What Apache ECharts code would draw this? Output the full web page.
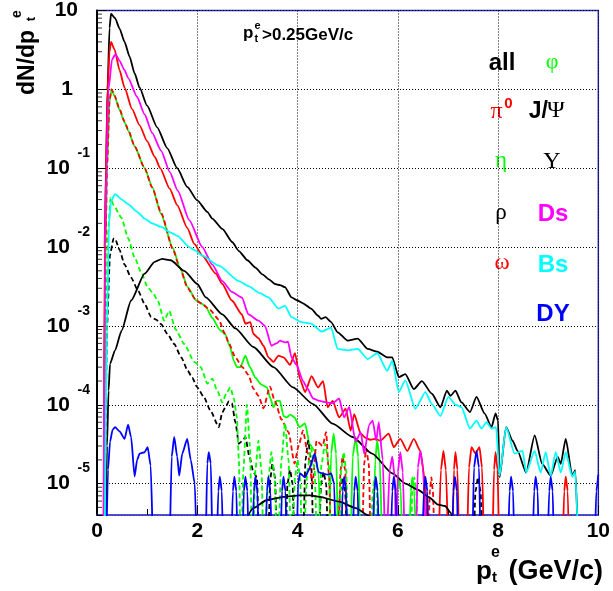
<!DOCTYPE html>
<html>
<head>
<meta charset="utf-8">
<script src="https://cdn.jsdelivr.net/npm/echarts@6/dist/echarts.min.js"></script>
<style>
html,body{margin:0;padding:0;background:#fff;}
#chart{width:613px;height:591px;}
</style>
</head>
<body>
<div id="chart"></div>
<script>
// ---------------- data (x = pt in GeV/c, y = dN/dpt) ----------------
const xTicks = [0, 2, 4, 6, 8, 10];
const yMin = 4e-6, yMax = 10;
const minorMult = [2, 3, 4, 5, 6, 7, 8, 9];
const minorDecades = [1e-6, 1e-5, 1e-4, 1e-3, 1e-2, 1e-1, 1];

const allPt = [[0.14,1e-6],[0.16,1e-2],[0.18,0.1],[0.21,1],[0.25,6],[0.28,9.1],[0.36,8.0],[0.45,5.9],[0.55,4.0],[0.65,2.6],[0.75,1.6],[0.85,1.05],[1.0,0.62],[1.2,0.33],[1.4,0.18],[1.6,0.1],[1.8,0.058],[2.0,0.039],[2.2,0.028],[2.3,0.023],[2.5,0.017],[2.7,0.0115],[2.83,0.0089],[3.0,0.0068],[3.16,0.0055],[3.3,0.0045],[3.43,0.0039],[3.55,0.0034],[3.65,0.0033],[3.75,0.0031],[3.88,0.0023],[4.0,0.0021],[4.1,0.00195],[4.27,0.00166],[4.41,0.00135],[4.47,0.00123],[4.56,0.00129],[4.67,0.00112],[4.8,0.00083],[5.0,0.00065],[5.2,0.00069],[5.4,0.00051],[5.59,0.00047],[5.79,0.0004],[5.89,0.0004],[6.02,0.000224],[6.15,0.000245],[6.32,0.000158],[6.48,0.0002],[6.68,0.000138],[6.85,0.000093],[6.98,0.000151],[7.05,0.00013],[7.15,0.000151],[7.27,0.000107],[7.44,0.000081],[7.57,0.000126],[7.73,0.000078],[7.87,0.000052],[7.95,0.000078],[8.0,0.000063],[8.03,0.000012],[8.16,0.000052],[8.29,0.000035],[8.39,0.000026],[8.56,0.0000138],[8.73,0.000041],[8.88,0.0000178],[9.05,0.0000126],[9.19,0.0000219],[9.25,0.0000178],[9.35,0.000037],[9.48,0.0000126],[9.54,0.0000148],[9.61,1e-6]];

const pi0Pt = [[0.13,1e-6],[0.15,1e-2],[0.18,0.1],[0.21,1],[0.25,3.0],[0.28,4.0],[0.35,3.2],[0.45,1.75],[0.55,1.05],[0.7,0.56],[0.85,0.35],[1.0,0.22],[1.15,0.14],[1.26,0.1],[1.45,0.055],[1.6,0.034],[1.8,0.0175],[1.94,0.011],[2.1,0.0078],[2.37,0.0046],[2.5,0.0034],[2.69,0.0021],[2.89,0.0014],[2.96,0.00107],[3.06,0.00112],[3.12,0.00079],[3.22,0.0007],[3.32,0.00056],[3.42,0.0004],[3.52,0.00035],[3.62,0.00042],[3.72,0.0004],[3.85,0.00032],[3.95,0.00045],[4.05,0.00021],[4.15,0.000145],[4.28,0.00023],[4.41,0.000166],[4.51,0.0002],[4.6,0.000093],[4.7,0.000112],[4.83,0.000069],[4.96,0.000089],[5.06,0.000047],[5.13,0.000076],[5.26,0.000043],[5.36,0.000038],[5.45,0.000036],[5.55,0.000037],[5.65,0.000035],[5.82,0.000043],[5.92,0.000029],[6.05,0.000037],[6.19,0.000026],[6.32,0.000037],[6.45,0.000026],[6.55,0.00001],[6.62,1e-6],[6.8,1e-6],[6.86,1.5e-5],[6.91,2.6e-5],[6.96,1.5e-5],[7.02,1e-6],[7.08,1e-6],[7.12,1.5e-5],[7.15,2.5e-5],[7.19,1.5e-5],[7.23,1e-6],[7.37,1e-6],[7.42,1.6e-5],[7.47,2.9e-5],[7.55,2.4e-5],[7.63,2.9e-5],[7.68,1.6e-5],[7.73,1e-6],[7.88,1e-6],[7.92,1.5e-5],[7.95,2.5e-5],[7.99,1.5e-5],[8.03,1e-6],[9.28,1e-6],[9.32,8e-6],[9.35,1.23e-5],[9.39,8e-6],[9.42,1e-6]];

const etaPt = [[0.14,1e-6],[0.17,1e-2],[0.2,0.1],[0.25,0.7],[0.29,1.0],[0.35,0.82],[0.45,0.55],[0.55,0.38],[0.62,0.3],[0.75,0.19],[0.95,0.1],[1.1,0.058],[1.28,0.026],[1.51,0.0098],[1.65,0.0056],[1.81,0.0031],[1.98,0.0021],[2.1,0.0019],[2.17,0.00174],[2.3,0.00126],[2.45,0.00089],[2.56,0.00078],[2.65,0.00055],[2.73,0.00036],[2.79,0.0003],[2.86,0.0003],[2.96,0.00042],[3.05,0.0003],[3.16,0.00022],[3.28,0.00018],[3.39,0.000166],[3.46,0.00012],[3.52,0.000093],[3.58,0.000112],[3.65,0.000112],[3.72,0.000072],[3.78,0.000069],[3.86,0.000075],[3.94,0.000069],[4.04,0.000052],[4.15,0.000058],[4.24,0.000032],[4.34,0.000026],[4.42,0.000013],[4.48,1e-6],[4.62,1e-6],[4.67,2.4e-5],[4.72,4.3e-5],[4.77,2.4e-5],[4.82,1e-6],[5.05,1e-6],[5.1,2.2e-5],[5.16,3.9e-5],[5.21,2.2e-5],[5.26,1e-6],[5.5,1e-6],[5.55,2e-5],[5.59,3.5e-5],[5.64,2e-5],[5.7,1e-6],[5.94,1e-6],[5.98,8e-6],[6.02,1.2e-5],[6.06,8e-6],[6.1,1e-6],[6.22,1e-6],[6.26,8e-6],[6.29,1.2e-5],[6.33,8e-6],[6.37,1e-6]];

const rhoPt = [[0.15,1e-6],[0.2,1e-3],[0.26,8e-3],[0.33,0.0128],[0.36,0.0128],[0.45,0.0092],[0.55,0.006],[0.68,0.0041],[0.82,0.0028],[0.95,0.0019],[1.08,0.0013],[1.18,0.0012],[1.28,0.00105],[1.4,0.0008],[1.54,0.00059],[1.68,0.0004],[1.81,0.00027],[1.9,0.00022],[2.0,0.000166],[2.13,0.000126],[2.26,0.000085],[2.43,0.000052],[2.5,0.00008],[2.56,0.000093],[2.63,0.00011],[2.69,0.000105],[2.76,0.00006],[2.83,0.000032],[2.9,0.000035],[2.96,0.000039],[3.04,0.000022],[3.12,0.000014],[3.19,0.000012],[3.24,1e-6],[3.4,1e-6],[3.46,1.2e-5],[3.5,1.8e-5],[3.55,1.2e-5],[3.6,1e-6],[3.75,1e-6],[3.8,1e-5],[3.85,1.5e-5],[3.9,1e-5],[3.95,1e-6],[4.1,1e-6],[4.16,2e-5],[4.21,3.5e-5],[4.27,2e-5],[4.33,1e-6],[4.42,1e-6],[4.47,1e-5],[4.52,1.4e-5],[4.57,1e-5],[4.62,1e-6],[4.8,1e-6],[4.85,8e-6],[4.9,1.2e-5],[4.95,8e-6],[5.0,1e-6],[7.5,1e-6],[7.55,8e-6],[7.6,1.2e-5],[7.65,8e-6],[7.7,1e-6]];

const omegaPt = [[0.14,1e-6],[0.17,1e-2],[0.2,0.1],[0.25,0.72],[0.29,1.0],[0.35,0.84],[0.45,0.56],[0.55,0.39],[0.62,0.31],[0.75,0.19],[0.95,0.1],[1.1,0.057],[1.28,0.027],[1.51,0.0095],[1.65,0.0055],[1.81,0.003],[1.98,0.0021],[2.1,0.0019],[2.25,0.0016],[2.43,0.0012],[2.55,0.0008],[2.63,0.0006],[2.76,0.0004],[2.9,0.0003],[3.02,0.00024],[3.12,0.00016],[3.22,0.00013],[3.32,0.00009],[3.45,0.00017],[3.55,0.00011],[3.68,0.000065],[3.82,0.000045],[3.94,0.000018],[4.02,0.00003],[4.11,0.000047],[4.2,0.000025],[4.3,0.00001],[4.38,0.000035],[4.5,0.00003],[4.57,0.000045],[4.63,0.000012],[4.68,1e-6],[4.8,1e-6],[4.86,1.5e-5],[4.9,2.2e-5],[4.95,1.5e-5],[5.0,1e-6],[5.28,1e-6],[5.33,1.8e-5],[5.37,2.8e-5],[5.42,1.8e-5],[5.47,1e-6],[6.6,1e-6],[6.64,8e-6],[6.67,1.2e-5],[6.7,8e-6],[6.74,1e-6]];

const phiPt = [[0.14,1e-6],[0.18,1e-3],[0.22,0.015],[0.27,0.042],[0.33,0.034],[0.49,0.0234],[0.62,0.013],[0.75,0.0074],[0.88,0.0048],[1.01,0.0031],[1.12,0.0026],[1.21,0.0021],[1.34,0.00117],[1.44,0.00155],[1.57,0.0009],[1.74,0.00059],[1.94,0.00035],[2.07,0.0003],[2.2,0.000186],[2.3,0.000214],[2.4,0.00015],[2.5,0.000107],[2.58,0.00014],[2.66,0.000166],[2.73,0.00012],[2.79,0.000069],[2.83,0.00002],[2.87,1e-6],[2.92,1.5e-5],[2.99,0.0001],[3.05,3e-5],[3.1,1e-6],[3.16,1.5e-5],[3.22,3.5e-5],[3.28,1.5e-5],[3.33,1e-6],[3.42,1.2e-5],[3.48,2.5e-5],[3.54,1.2e-5],[3.6,1e-6],[3.68,2e-5],[3.75,5.8e-5],[3.82,2e-5],[3.88,1e-6],[3.95,1.2e-5],[4.0,2e-5],[4.05,1.2e-5],[4.1,1e-6],[4.2,1.5e-5],[4.27,2.8e-5],[4.34,1.5e-5],[4.4,1e-6],[4.48,1.8e-5],[4.55,3.2e-5],[4.62,1.8e-5],[4.68,1e-6],[4.82,1e-6],[4.87,1.5e-5],[4.92,2.5e-5],[4.97,1.5e-5],[5.02,1e-6],[5.45,1e-6],[5.5,8e-6],[5.54,1.2e-5],[5.58,8e-6],[5.62,1e-6],[6.25,1e-6],[6.29,8e-6],[6.33,1.2e-5],[6.37,8e-6],[6.41,1e-6]];

const jpsiPt = [[0.17,1e-6],[0.2,3e-5],[0.23,1.5e-4],[0.26,3.3e-4],[0.36,4.9e-4],[0.49,8.7e-4],[0.68,0.0021],[0.95,0.0046],[1.15,0.0065],[1.3,0.0071],[1.47,0.0068],[1.74,0.005],[2.0,0.0034],[2.17,0.0023],[2.5,0.0014],[2.76,0.00093],[3.12,0.00054],[3.52,0.0003],[3.91,0.000166],[4.31,0.000102],[4.7,0.0000575],[5.1,0.000039],[5.49,0.000024],[5.89,0.0000135],[6.15,0.00001],[6.41,0.0000083],[6.61,0.0000068],[6.81,0.0000054],[6.94,0.0000052],[7.07,0.0000042],[7.12,1e-6]];

const upsPt = [[2.92,3e-6],[3.12,4.9e-6],[3.39,6.2e-6],[3.72,6.8e-6],[4.04,7.1e-6],[4.25,7.1e-6],[4.44,6.8e-6],[4.83,5.9e-6],[5.16,4.9e-6],[5.43,3.9e-6],[5.5,3e-6]];

const dsPt = [[0.13,1e-6],[0.16,1e-2],[0.19,0.1],[0.23,1],[0.3,2.4],[0.37,2.8],[0.45,2.3],[0.55,1.75],[0.62,1.4],[0.8,0.8],[0.95,0.48],[1.1,0.28],[1.28,0.166],[1.45,0.09],[1.61,0.052],[1.84,0.022],[2.1,0.01],[2.3,0.006],[2.5,0.0037],[2.69,0.0027],[2.89,0.0023],[3.02,0.0014],[3.22,0.00117],[3.35,0.001],[3.48,0.00056],[3.58,0.0006],[3.65,0.00065],[3.75,0.00062],[3.81,0.00063],[3.88,0.0004],[3.98,0.00032],[4.11,0.0002],[4.2,0.00016],[4.31,0.00012],[4.44,0.000112],[4.57,0.000107],[4.7,0.000105],[4.83,0.00012],[4.93,0.000069],[5.03,0.000093],[5.16,0.000034],[5.26,0.000045],[5.33,0.000024],[5.43,0.000056],[5.5,0.000063],[5.57,0.000035],[5.62,0.00006],[5.7,0.00002],[5.76,1e-6],[5.84,1.5e-5],[5.89,2.2e-5],[5.94,1.2e-5],[5.97,1e-6],[6.0,1.4e-5],[6.05,2.5e-5],[6.1,1.4e-5],[6.15,1e-6],[6.35,1e-6],[6.4,1.6e-5],[6.45,2.6e-5],[6.5,1.6e-5],[6.58,1e-6]];

const bsPt = [[0.15,1e-6],[0.2,1e-3],[0.24,0.02],[0.28,0.038],[0.36,0.047],[0.5,0.04],[0.62,0.035],[0.8,0.028],[0.95,0.023],[1.1,0.02],[1.28,0.018],[1.45,0.0155],[1.61,0.0138],[1.84,0.01],[1.94,0.0092],[2.1,0.0078],[2.43,0.0058],[2.83,0.0037],[3.02,0.0032],[3.25,0.0026],[3.42,0.0023],[3.62,0.00166],[3.75,0.0018],[3.88,0.00129],[4.07,0.00112],[4.27,0.00107],[4.48,0.00085],[4.67,0.00095],[4.8,0.00051],[5.0,0.00049],[5.2,0.00051],[5.4,0.00038],[5.59,0.00045],[5.79,0.00027],[5.89,0.00036],[6.02,0.000145],[6.15,0.000204],[6.35,0.000089],[6.55,0.000145],[6.68,0.000102],[6.85,0.000072],[7.01,0.000126],[7.15,0.0001],[7.27,0.000093],[7.44,0.00005],[7.57,0.000063],[7.67,0.00005],[7.77,0.00006],[7.87,0.00005],[7.96,0.000052],[8.03,0.0000126],[8.16,0.000052],[8.33,0.000024],[8.49,0.000026],[8.56,0.0000138],[8.73,0.000026],[8.85,0.0000138],[8.95,0.000025],[9.05,0.0000126],[9.15,0.000025],[9.25,0.0000138],[9.35,0.000025],[9.48,0.0000122],[9.54,0.0000142],[9.61,1e-6]];

const dyPt = [[0.18,1e-6],[0.22,1.5e-5],[0.26,3.4e-5],[0.31,4.8e-5],[0.36,5.2e-5],[0.45,4.6e-5],[0.55,3.7e-5],[0.62,5.6e-5],[0.68,3.9e-5],[0.75,1.23e-5],[0.8,2e-5],[0.85,2.4e-5],[0.95,2.5e-5],[1.01,2.9e-5],[1.07,1.7e-5],[1.13,1e-6],[1.44,1e-6],[1.49,2.2e-5],[1.54,3.9e-5],[1.6,2.2e-5],[1.64,1.26e-5],[1.7,2.4e-5],[1.8,3.7e-5],[1.87,2e-5],[1.95,1e-5],[2.0,1e-6],
[2.16,1e-6],[2.2,1.8e-5],[2.23,2.5e-5],[2.27,1.8e-5],[2.31,1e-6],
[2.38,1e-6],[2.42,8e-6],[2.45,1.23e-5],[2.49,8e-6],[2.52,1e-6],
[2.67,1e-6],[2.71,8e-6],[2.74,1.23e-5],[2.78,8e-6],[2.81,1e-6],
[2.89,1e-6],[2.93,8e-6],[2.96,1.23e-5],[3.0,8e-6],[3.03,1e-6],
[3.09,1e-6],[3.13,8e-6],[3.16,1.23e-5],[3.2,8e-6],[3.23,1e-6],
[3.35,1e-6],[3.39,8e-6],[3.42,1.23e-5],[3.46,8e-6],[3.49,1e-6],
[3.65,1e-6],[3.69,8e-6],[3.72,1.23e-5],[3.76,8e-6],[3.79,1e-6],
[3.98,1e-6],[4.01,1e-5],[4.05,1.35e-5],[4.15,1.2e-5],[4.25,1.6e-5],[4.34,2.4e-5],[4.42,1.4e-5],[4.5,1.35e-5],[4.6,1.3e-5],[4.67,1.35e-5],[4.73,1e-5],[4.77,1e-6],
[4.86,1e-6],[4.9,8e-6],[4.93,1.23e-5],[4.97,8e-6],[5.0,1e-6],
[5.09,1e-6],[5.13,8e-6],[5.16,1.23e-5],[5.2,8e-6],[5.23,1e-6],
[5.49,1e-6],[5.53,8e-6],[5.56,1.23e-5],[5.6,8e-6],[5.63,1e-6],
[5.85,1e-6],[5.89,8e-6],[5.92,1.23e-5],[5.96,8e-6],[5.99,1e-6],
[6.48,1e-6],[6.52,8e-6],[6.55,1.23e-5],[6.59,8e-6],[6.62,1e-6],
[7.07,1e-6],[7.11,8e-6],[7.14,1.23e-5],[7.18,8e-6],[7.21,1e-6],
[7.48,1e-6],[7.52,1.6e-5],[7.57,2.6e-5],[7.62,1.6e-5],[7.66,1e-6],
[8.19,1e-6],[8.23,8e-6],[8.26,1.23e-5],[8.3,8e-6],[8.33,1e-6],
[8.68,1e-6],[8.72,8e-6],[8.75,1.23e-5],[8.79,8e-6],[8.82,1e-6],
[8.98,1e-6],[9.02,8e-6],[9.05,1.23e-5],[9.09,8e-6],[9.12,1e-6],
[9.92,1e-6],[9.96,8e-6],[10.0,1.3e-5]];

const legendLabels = ['all', 'φ', 'π', 'J/Ψ', 'η', 'Υ', 'ρ', 'Ds', 'ω', 'Bs', 'DY'];

// ---------------- chart ----------------
const SANS = '"Liberation Sans", Arial, Helvetica, sans-serif';
const SERIF = '"Liberation Serif", "Times New Roman", serif';
const RED = '#ff0000', GREEN = '#00ff00', MAG = '#ff00ff', CYAN = '#00ffff', BLUE = '#0000ff', BLACK = '#000000';

function line(name, data, color, dashed, z) {
  return {
    type: 'line', name: name, data: data, z: z,
    symbol: 'none', showSymbol: false, smooth: 0.2, smoothMonotone: 'x',
    clip: true, silent: true,
    lineStyle: { color: color, width: 1.8, type: dashed ? [5, 3] : 'solid' }
  };
}

const minorTickData = [];
minorDecades.forEach(function (d) {
  minorMult.forEach(function (m) {
    const v = m * d;
    if (v > yMin && v < yMax) minorTickData.push([0, v]);
  });
});

function T(x, y, text, size, color, family, bold, align) {
  return { type: 'text', x: x, y: y, silent: true,
    style: { text: text, fill: color, fontSize: size, fontFamily: family,
      fontWeight: bold ? 'bold' : 'normal', align: align || 'center', verticalAlign: 'middle' } };
}

const chart = echarts.init(document.getElementById('chart'), null, { renderer: 'canvas' });
chart.setOption({
  animation: false,
  backgroundColor: '#ffffff',
  grid: { left: 97, top: 9, width: 506, height: 506, show: true, borderColor: '#2b2bbb', borderWidth: 1.5, backgroundColor: 'transparent' },
  xAxis: {
    type: 'value', min: xTicks[0], max: xTicks[xTicks.length - 1], interval: 2,
    axisLine: { show: true, lineStyle: { color: '#4a4ad8', width: 1.5 } },
    axisTick: { show: true, inside: true, length: 10, lineStyle: { color: '#000', width: 1 } },
    minorTick: { show: true, splitNumber: 2, length: 6, lineStyle: { color: '#000', width: 1 } },
    splitLine: { show: true, lineStyle: { color: '#000', width: 1, type: [1, 2] } },
    axisLabel: { margin: 6, color: '#000', fontSize: 21, fontWeight: 'bold', fontFamily: SANS }
  },
  yAxis: {
    type: 'log', logBase: 10, min: yMin, max: yMax,
    axisLine: { show: true, lineStyle: { color: '#000', width: 2 } },
    axisTick: { show: true, inside: true, length: 10, lineStyle: { color: '#000', width: 1 } },
    splitLine: { show: true, lineStyle: { color: '#000', width: 1, type: [1, 2] } },
    axisLabel: {
      margin: 7, color: '#000', fontSize: 21, fontWeight: 'bold', fontFamily: SANS,
      formatter: function (v) {
        const lg = Math.log10(v); const e = Math.round(lg);
        if (Math.abs(lg - e) > 1e-6) return '';
        if (e === 1) return '{t|10}';
        if (e === 0) return '{o|1}';
        return '{e|' + e + '}\n{b|10}\n{s| }';
      },
      rich: {
        t: { fontSize: 21, fontWeight: 'bold', fontFamily: SANS, color: '#000', padding: [0, 12, 0, 0] },
        o: { fontSize: 21, fontWeight: 'bold', fontFamily: SANS, color: '#000', padding: [0, 17, 0, 0] },
        b: { fontSize: 21, fontWeight: 'bold', fontFamily: SANS, color: '#000', lineHeight: 20, padding: [0, 20, 0, 0] },
        e: { fontSize: 14, fontWeight: 'bold', fontFamily: SANS, color: '#000', lineHeight: 10 },
        s: { fontSize: 14, fontFamily: SANS, lineHeight: 10 }
      }
    }
  },
  series: [
    line('all', allPt, BLACK, false, 2),
    line('π0', pi0Pt, RED, false, 3),
    line('η', etaPt, GREEN, false, 4),
    line('ρ', rhoPt, BLACK, true, 5),
    line('ω', omegaPt, RED, true, 6),
    line('φ', phiPt, GREEN, true, 7),
    line('J/Ψ', jpsiPt, BLACK, false, 8),
    line('Υ', upsPt, BLACK, false, 9),
    line('Ds', dsPt, MAG, false, 10),
    line('Bs', bsPt, CYAN, false, 11),
    line('DY', dyPt, BLUE, false, 12),
    { type: 'scatter', name: 'minorTicks', data: minorTickData, symbol: 'rect', symbolSize: [5, 1], symbolOffset: [2.5, 0],
      itemStyle: { color: '#000' }, clip: false, silent: true, z: 20 }
  ],
  graphic: [
    // y-axis title (rotated)
    { type: 'group', x: 27.5, y: 95, rotation: Math.PI / 2, silent: true, children: [
      { type: 'text', x: 0, y: 0, style: { text: 'dN/dp', fill: '#000', fontSize: 23, fontWeight: 'bold', fontFamily: SANS, align: 'left', verticalAlign: 'middle' } },
      { type: 'text', x: 76, y: 4, style: { text: 't', fill: '#000', fontSize: 13, fontWeight: 'bold', fontFamily: SANS, align: 'center', verticalAlign: 'middle' } },
      { type: 'text', x: 81, y: -10, style: { text: 'e', fill: '#000', fontSize: 14, fontWeight: 'bold', fontFamily: SANS, align: 'center', verticalAlign: 'middle' } }
    ] },
    // x-axis title
    T(476, 572, 'p', 26, '#000', SANS, true, 'left'),
    T(492, 578, 't', 15, '#000', SANS, true, 'left'),
    T(491, 553, 'e', 16, '#000', SANS, true, 'left'),
    T(603, 572, '(GeV/c)', 27, '#000', SANS, true, 'right'),
    // cut annotation
    T(243, 33, 'p', 17, '#000', SANS, true, 'left'),
    T(254.5, 39, 't', 11, '#000', SANS, true, 'left'),
    T(254.5, 26, 'e', 11, '#000', SANS, true, 'left'),
    T(262, 35, '>0.25GeV/c', 17, '#000', SANS, true, 'left'),
    // legend
    T(502, 63, legendLabels[0], 24, BLACK, SANS, true),
    T(552, 62, legendLabels[1], 22, GREEN, SERIF, false),
    T(496.5, 112, legendLabels[2], 24, RED, SERIF, false),
    T(508.5, 104, '0', 15, RED, SANS, true),
    T(548, 112, 'J/', 23, BLACK, SANS, true, 'right'),
    T(547, 111, 'Ψ', 24, BLACK, SERIF, false, 'left'),
    T(501, 161, legendLabels[4], 23, GREEN, SERIF, false),
    T(552, 162, legendLabels[5], 24, BLACK, SERIF, false),
    T(501, 213, legendLabels[6], 23, BLACK, SERIF, false),
    T(553, 214, legendLabels[7], 24, MAG, SANS, true),
    T(502, 263, legendLabels[8], 23, RED, SERIF, false),
    T(553, 265, legendLabels[9], 24, CYAN, SANS, true),
    T(553, 314, legendLabels[10], 24, BLUE, SANS, true)
  ]
});
</script>
</body>
</html>
